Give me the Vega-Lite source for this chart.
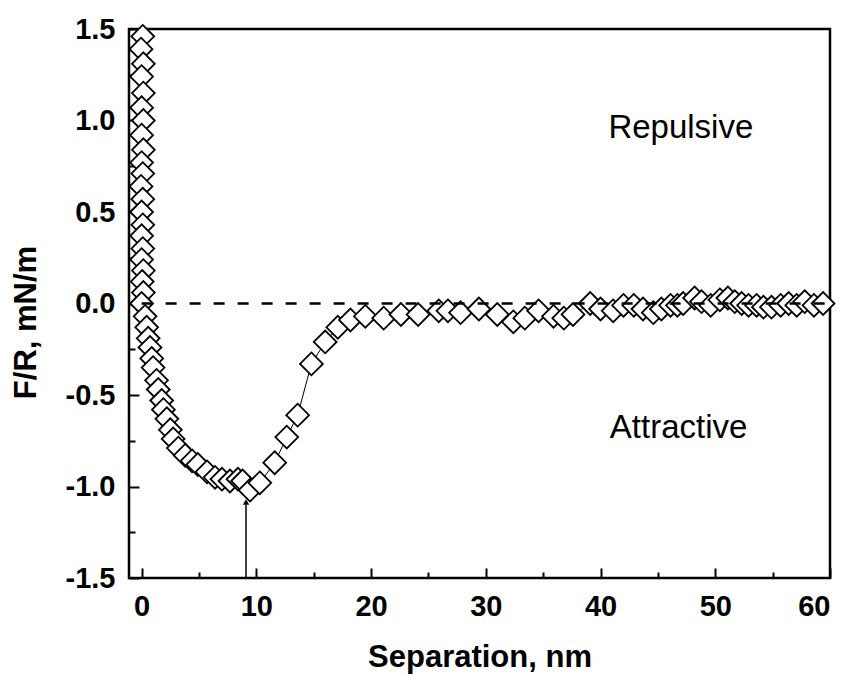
{
  "$schema": "https://vega.github.io/schema/vega-lite/v6.json",
  "autosize": "none",
  "width": 701,
  "height": 549,
  "padding": {"left": 129, "top": 29, "right": 19, "bottom": 100},
  "background": "white",
  "config": {
    "view": {"stroke": "black", "strokeWidth": 2.5},
    "axis": {
      "grid": false,
      "domain": false,
      "tickColor": "black",
      "tickWidth": 2,
      "labelFont": "Liberation Sans",
      "labelFontWeight": "bold",
      "labelFontSize": 29,
      "labelColor": "black",
      "titleFont": "Liberation Sans",
      "titleFontWeight": "bold",
      "titleFontSize": 31,
      "titleColor": "black"
    }
  },
  "datasets": {
    "pts": [
      {"i": 1, "x": 0.1, "y": 1.46}, {"i": 2, "x": -0.05, "y": 1.39}, {"i": 3, "x": 0.15, "y": 1.31},
      {"i": 4, "x": 0.0, "y": 1.24}, {"i": 5, "x": 0.15, "y": 1.15}, {"i": 6, "x": 0.0, "y": 1.07},
      {"i": 7, "x": 0.15, "y": 1.0}, {"i": 8, "x": 0.0, "y": 0.92}, {"i": 9, "x": 0.15, "y": 0.84},
      {"i": 10, "x": 0.0, "y": 0.77}, {"i": 11, "x": 0.1, "y": 0.71}, {"i": 12, "x": -0.05, "y": 0.64},
      {"i": 13, "x": 0.1, "y": 0.57}, {"i": 14, "x": 0.0, "y": 0.5}, {"i": 15, "x": 0.1, "y": 0.43},
      {"i": 16, "x": 0.0, "y": 0.37}, {"i": 17, "x": 0.1, "y": 0.3}, {"i": 18, "x": 0.0, "y": 0.24},
      {"i": 19, "x": 0.15, "y": 0.18}, {"i": 20, "x": 0.05, "y": 0.12}, {"i": 21, "x": 0.15, "y": 0.06},
      {"i": 22, "x": 0.0, "y": 0.0}, {"i": 23, "x": 0.3, "y": -0.07}, {"i": 24, "x": 0.44, "y": -0.13},
      {"i": 25, "x": 0.57, "y": -0.19}, {"i": 26, "x": 0.73, "y": -0.24}, {"i": 27, "x": 0.88, "y": -0.3},
      {"i": 28, "x": 1.0, "y": -0.35}, {"i": 29, "x": 1.3, "y": -0.42}, {"i": 30, "x": 1.45, "y": -0.47},
      {"i": 31, "x": 1.75, "y": -0.53}, {"i": 32, "x": 1.9, "y": -0.58}, {"i": 33, "x": 2.2, "y": -0.63},
      {"i": 34, "x": 2.5, "y": -0.69}, {"i": 35, "x": 2.75, "y": -0.74}, {"i": 36, "x": 3.2, "y": -0.79},
      {"i": 37, "x": 3.8, "y": -0.83}, {"i": 38, "x": 4.4, "y": -0.86}, {"i": 39, "x": 4.9, "y": -0.88},
      {"i": 40, "x": 5.7, "y": -0.92}, {"i": 41, "x": 6.4, "y": -0.95}, {"i": 42, "x": 7.0, "y": -0.96},
      {"i": 43, "x": 7.7, "y": -0.97}, {"i": 44, "x": 8.4, "y": -0.96}, {"i": 45, "x": 8.8, "y": -0.97},
      {"i": 46, "x": 9.45, "y": -1.02}, {"i": 47, "x": 10.3, "y": -0.98}, {"i": 48, "x": 11.6, "y": -0.87},
      {"i": 49, "x": 12.65, "y": -0.73}, {"i": 50, "x": 13.6, "y": -0.61}, {"i": 51, "x": 14.8, "y": -0.33},
      {"i": 52, "x": 16.0, "y": -0.21}, {"i": 53, "x": 17.1, "y": -0.13}, {"i": 54, "x": 18.2, "y": -0.09},
      {"i": 55, "x": 19.5, "y": -0.07}, {"i": 56, "x": 21.1, "y": -0.08}, {"i": 57, "x": 22.6, "y": -0.06},
      {"i": 58, "x": 24.1, "y": -0.06}, {"i": 59, "x": 25.9, "y": -0.04}, {"i": 60, "x": 26.7, "y": -0.04},
      {"i": 61, "x": 27.8, "y": -0.05}, {"i": 62, "x": 29.4, "y": -0.03}, {"i": 63, "x": 31.0, "y": -0.06},
      {"i": 64, "x": 32.4, "y": -0.1}, {"i": 65, "x": 33.4, "y": -0.08}, {"i": 66, "x": 34.6, "y": -0.04},
      {"i": 67, "x": 35.9, "y": -0.07}, {"i": 68, "x": 36.8, "y": -0.08}, {"i": 69, "x": 37.6, "y": -0.06},
      {"i": 70, "x": 39.1, "y": 0.0}, {"i": 71, "x": 40.0, "y": -0.03}, {"i": 72, "x": 41.1, "y": -0.04},
      {"i": 73, "x": 42.0, "y": -0.01}, {"i": 74, "x": 42.9, "y": -0.01}, {"i": 75, "x": 43.7, "y": -0.03},
      {"i": 76, "x": 44.6, "y": -0.05}, {"i": 77, "x": 45.3, "y": -0.03}, {"i": 78, "x": 46.1, "y": -0.01},
      {"i": 79, "x": 46.7, "y": -0.01}, {"i": 80, "x": 47.2, "y": 0.0}, {"i": 81, "x": 48.2, "y": 0.03},
      {"i": 82, "x": 48.8, "y": 0.01}, {"i": 83, "x": 49.6, "y": -0.01}, {"i": 84, "x": 50.4, "y": 0.02},
      {"i": 85, "x": 51.1, "y": 0.03}, {"i": 86, "x": 51.7, "y": 0.01}, {"i": 87, "x": 52.3, "y": 0.0},
      {"i": 88, "x": 52.9, "y": -0.01}, {"i": 89, "x": 53.6, "y": -0.01}, {"i": 90, "x": 54.2, "y": -0.02},
      {"i": 91, "x": 54.9, "y": -0.02}, {"i": 92, "x": 55.7, "y": -0.01}, {"i": 93, "x": 56.4, "y": 0.0},
      {"i": 94, "x": 57.1, "y": -0.01}, {"i": 95, "x": 57.8, "y": 0.01}, {"i": 96, "x": 58.6, "y": -0.01},
      {"i": 97, "x": 59.4, "y": 0.0}
    ],
    "zero": [{"x": 0, "x2": 60, "y": 0}],
    "arrow": [{"x": 9.1, "y": -1.5, "y2": -1.1, "tip": -1.085}],
    "labels": [
      {"x": 47.0, "y": 0.96, "text": "Repulsive"},
      {"x": 46.8, "y": -0.68, "text": "Attractive"}
    ]
  },
  "encoding": {
    "x": {
      "field": "x", "type": "quantitative",
      "scale": {"domain": [-1.1, 60], "nice": false, "zero": false},
      "axis": {
        "title": "Separation, nm",
        "values": [0, 5, 10, 15, 20, 25, 30, 35, 40, 45, 50, 55, 60],
        "labelExpr": "datum.value % 10 === 0 ? datum.label : ''",
        "tickSize": {"condition": {"test": "datum.value % 10 === 0", "value": -10}, "value": -6},
        "labelPadding": 24,
        "titleY": 88,
        "titleBaseline": "alphabetic"
      }
    },
    "y": {
      "field": "y", "type": "quantitative",
      "scale": {"domain": [-1.5, 1.5], "nice": false, "zero": false},
      "axis": {
        "title": "F/R, mN/m",
        "values": [-1.5, -1.25, -1, -0.75, -0.5, -0.25, 0, 0.25, 0.5, 0.75, 1, 1.25, 1.5],
        "labelExpr": "abs(datum.value * 2 - round(datum.value * 2)) < 0.001 ? (datum.value < 0 ? '-' + format(-datum.value, '.1f') : format(datum.value, '.1f')) : ''",
        "tickSize": {"condition": {"test": "abs(datum.value * 2 - round(datum.value * 2)) < 0.001", "value": -10}, "value": -6},
        "labelPadding": 24,
        "titleX": -94,
        "titleY": 293,
        "titleAlign": "center",
        "titleBaseline": "alphabetic",
        "titleAngle": 270
      }
    }
  },
  "layer": [
    {
      "data": {"name": "pts"},
      "mark": {"type": "line", "color": "black", "strokeWidth": 1},
      "encoding": {"order": {"field": "i", "type": "quantitative"}}
    },
    {
      "data": {"name": "pts"},
      "mark": {"type": "point", "shape": "diamond", "filled": false, "fill": "white", "fillOpacity": 1, "stroke": "black", "strokeWidth": 1.8, "size": 520, "opacity": 1}
    },
    {
      "data": {"name": "zero"},
      "mark": {"type": "rule", "color": "black", "strokeWidth": 2.5, "strokeDash": [11, 13]},
      "encoding": {"x2": {"field": "x2"}}
    },
    {
      "data": {"name": "arrow"},
      "mark": {"type": "rule", "color": "black", "strokeWidth": 1.5},
      "encoding": {"y2": {"field": "y2"}}
    },
    {
      "data": {"name": "arrow"},
      "mark": {"type": "point", "shape": "triangle-up", "filled": true, "color": "black", "size": 40, "opacity": 1},
      "encoding": {"y": {"field": "tip", "type": "quantitative"}}
    },
    {
      "data": {"name": "labels"},
      "mark": {"type": "text", "font": "Liberation Sans", "fontSize": 33, "color": "black", "align": "center", "baseline": "middle"},
      "encoding": {"text": {"field": "text"}}
    }
  ]
}
